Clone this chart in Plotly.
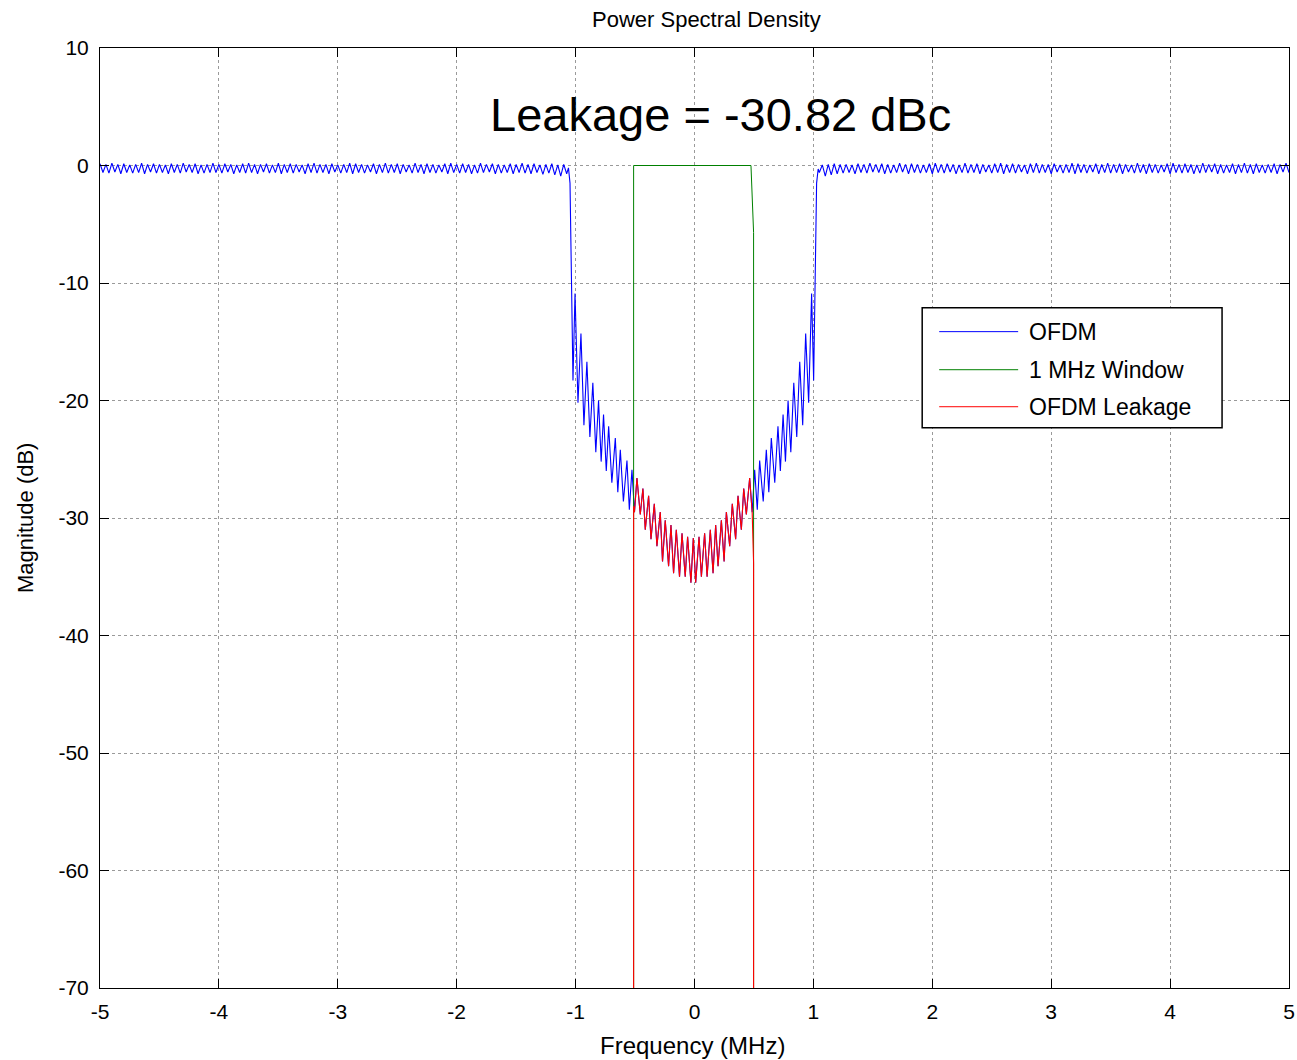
import numpy as np
import plotly.graph_objects as go

# ---------------- data ----------------
PASS_STEP = 0.025
PASS_L_START = -5.0
PASS_R_START = 1.05

# OFDM passband ripple, left side (f = -5.0 ... -1.075, step 0.025), dB
PASS_L_DB = [
    0.15, -0.6, 0.1, -0.65, 0.2, -0.55, 0.1, -0.7, 0.15, -0.6, 0.05, -0.65, 0.1, -0.6, 0.2, -0.7, 0.1, -0.55, 0.15, -0.65,
    0.1, -0.6, 0.05, -0.7, 0.15, -0.6, 0.1, -0.65, 0.2, -0.55, 0.1, -0.6, 0.15, -0.7, 0.05, -0.65, 0.1, -0.6, 0.2, -0.6,
    0.1, -0.65, 0.15, -0.55, 0.1, -0.7, 0.05, -0.6, 0.15, -0.65, 0.2, -0.6, 0.1, -0.7, 0.1, -0.55, 0.15, -0.65, 0.05, -0.6,
    0.2, -0.7, 0.1, -0.6, 0.15, -0.65, 0.1, -0.55, 0.05, -0.7, 0.15, -0.6, 0.2, -0.65, 0.1, -0.6, 0.1, -0.7, 0.15, -0.55,
    0.05, -0.65, 0.1, -0.6, 0.2, -0.7, 0.15, -0.6, 0.1, -0.65, 0.05, -0.55, 0.15, -0.7, 0.1, -0.6, 0.2, -0.65, 0.1, -0.6,
    0.15, -0.7, 0.1, -0.55, 0.05, -0.65, 0.2, -0.6, 0.1, -0.7, 0.15, -0.6, 0.1, -0.65, 0.05, -0.55, 0.15, -0.7, 0.2, -0.6,
    0.1, -0.65, 0.15, -0.6, 0.1, -0.7, 0.05, -0.65, 0.2, -0.6, 0.1, -0.55, 0.15, -0.7, 0.1, -0.65, 0.05, -0.6, 0.15, -0.7,
    0.1, -0.6, 0.2, -0.65, 0.1, -0.7, 0.15, -0.6, 0.05, -0.75, 0.1, -0.65, 0.15, -0.8, 0.05, -0.9, 0.1, -0.7,
]

# OFDM stop band (transition edges, sawtooth ripple), frequency in MHz and dB
STOP_F = [
    -1.060, -1.047, -1.033, -1.022, -1.005, -0.980, -0.955, -0.930, -0.905, -0.880,
    -0.855, -0.830, -0.807, -0.785, -0.765, -0.742, -0.722, -0.695, -0.666, -0.645,
    -0.624, -0.598, -0.568, -0.548, -0.526, -0.505, -0.484, -0.456, -0.434, -0.414,
    -0.386, -0.366, -0.338, -0.316, -0.288, -0.269, -0.246, -0.218, -0.198, -0.176,
    -0.153, -0.126, -0.105, -0.078, -0.058, -0.030, -0.010,
    0.010, 0.038, 0.058, 0.085, 0.106, 0.133, 0.156, 0.178, 0.198, 0.226,
    0.249, 0.268, 0.296, 0.318, 0.346, 0.366, 0.394, 0.414, 0.436, 0.464,
    0.485, 0.506, 0.528, 0.548, 0.578, 0.604, 0.625, 0.646, 0.675, 0.702,
    0.722, 0.745, 0.765, 0.787, 0.810, 0.835, 0.860, 0.885, 0.910, 0.935,
    0.960, 0.985, 1.002, 1.013, 1.027, 1.040,
]
STOP_DB = [
    -0.2, -1.5, -10.9, -18.3, -10.9, -20.2, -14.3, -22.1, -16.7, -23.1,
    -18.5, -24.4, -20.0, -25.2, -21.2, -26.0, -22.2, -27.0, -23.2, -27.8,
    -24.2, -28.6, -25.1, -29.3, -25.9, -29.5, -26.6, -29.7, -27.5, -31.0,
    -28.1, -31.8, -28.8, -32.4, -29.5, -33.7, -30.2, -34.1, -30.6, -34.7,
    -31.0, -35.0, -31.3, -35.0, -31.6, -35.5, -31.7,
    -35.5, -31.6, -35.0, -31.3, -35.0, -31.0, -34.7, -30.6, -34.1, -30.2,
    -33.7, -29.5, -32.4, -28.8, -31.8, -28.1, -31.0, -27.5, -29.7, -26.6,
    -29.5, -25.9, -29.3, -25.1, -28.6, -24.2, -27.8, -23.2, -27.0, -22.2,
    -26.0, -21.2, -25.2, -20.0, -24.4, -18.5, -23.1, -16.7, -22.1, -14.3,
    -20.2, -10.9, -18.3, -10.9, -1.5, -0.3,
]

# OFDM passband ripple, right side (f = 1.05 ... 5.0, step 0.025), dB
PASS_R_DB = [
    -0.6, 0.05, -0.9, 0.1, -0.8, 0.15, -0.7, 0.1, -0.65, 0.1, -0.6, 0.05, -0.7, 0.15, -0.6, 0.1, -0.65, 0.2, -0.55, 0.1,
    -0.6, 0.15, -0.7, 0.1, -0.65, 0.05, -0.6, 0.2, -0.55, 0.1, -0.7, 0.15, -0.6, 0.1, -0.65, 0.05, -0.6, 0.15, -0.7, 0.2,
    -0.6, 0.1, -0.65, 0.15, -0.55, 0.1, -0.7, 0.05, -0.6, 0.2, -0.65, 0.1, -0.6, 0.15, -0.7, 0.1, -0.55, 0.05, -0.65, 0.15,
    -0.6, 0.2, -0.7, 0.1, -0.6, 0.15, -0.65, 0.1, -0.55, 0.05, -0.7, 0.15, -0.6, 0.2, -0.65, 0.1, -0.6, 0.1, -0.7, 0.15,
    -0.55, 0.05, -0.65, 0.1, -0.6, 0.2, -0.7, 0.15, -0.6, 0.1, -0.65, 0.05, -0.55, 0.15, -0.7, 0.1, -0.6, 0.2, -0.65, 0.1,
    -0.6, 0.15, -0.7, 0.1, -0.55, 0.05, -0.65, 0.2, -0.6, 0.1, -0.7, 0.15, -0.6, 0.1, -0.65, 0.05, -0.55, 0.15, -0.7, 0.2,
    -0.6, 0.1, -0.65, 0.15, -0.6, 0.1, -0.7, 0.05, -0.65, 0.2, -0.6, 0.1, -0.55, 0.15, -0.7, 0.1, -0.65, 0.05, -0.6, 0.15,
    -0.7, 0.1, -0.6, 0.2, -0.65, 0.1, -0.7, 0.15, -0.6, 0.05, -0.65, 0.1, -0.6, 0.15, -0.7, 0.1, -0.55, 0.2, -0.6,
]

# 1 MHz window (dB), values far below -70 are off-scale
WIN_F = [-5.0, -0.512, -0.512, 0.475, 0.497, 0.497, 5.0]
WIN_DB = [-300, -300, 0.0, 0.0, -5.7, -300, -300]

# leakage edges (window limits)
LEAK_LO, LEAK_HI = -0.512, 0.497
LEAK_EDGE_L_DB = [-300, -29.0]
LEAK_EDGE_R_DB = [-33.8, -300]

X_TICKS = [-5, -4, -3, -2, -1, 0, 1, 2, 3, 4, 5]
Y_TICKS = [10, 0, -10, -20, -30, -40, -50, -60, -70]
LEGEND_NAMES = ["OFDM", "1 MHz Window", "OFDM Leakage"]
COLORS = ["#0000ff", "#008000", "#ff0000"]

# ---------------- build series ----------------
pass_l_f = PASS_L_START + PASS_STEP * np.arange(len(PASS_L_DB))
pass_r_f = PASS_R_START + PASS_STEP * np.arange(len(PASS_R_DB))
ofdm_f = np.concatenate([pass_l_f, np.array(STOP_F), pass_r_f])
ofdm_db = np.concatenate([np.array(PASS_L_DB), np.array(STOP_DB), np.array(PASS_R_DB)])

stop_f = np.array(STOP_F)
stop_db = np.array(STOP_DB)
inwin = (stop_f >= LEAK_LO) & (stop_f <= LEAK_HI)
leak_f = np.concatenate([[LEAK_LO, LEAK_LO], stop_f[inwin], [LEAK_HI, LEAK_HI]])
leak_db = np.concatenate([LEAK_EDGE_L_DB, stop_db[inwin], LEAK_EDGE_R_DB])

FONT = "Liberation Sans, Arial, sans-serif"

fig = go.Figure()
fig.add_trace(go.Scatter(x=ofdm_f, y=ofdm_db, mode="lines", name=LEGEND_NAMES[0],
                         line=dict(color=COLORS[0], width=1.1), showlegend=False))
fig.add_trace(go.Scatter(x=WIN_F, y=WIN_DB, mode="lines", name=LEGEND_NAMES[1],
                         line=dict(color=COLORS[1], width=1), showlegend=False))
fig.add_trace(go.Scatter(x=leak_f, y=leak_db, mode="lines", name=LEGEND_NAMES[2],
                         line=dict(color=COLORS[2], width=1.1), showlegend=False))

axis_common = dict(
    showline=True, linecolor="black", linewidth=1, mirror="ticks",
    ticks="inside", ticklen=9, tickcolor="black", tickwidth=1,
    showgrid=True, gridcolor="#9a9a9a", griddash="dot", gridwidth=1,
    zeroline=False, automargin=False,
    tickfont=dict(family=FONT, size=21, color="black"),
)

fig.update_xaxes(range=[-5, 5], tickvals=X_TICKS, ticktext=[str(v) for v in X_TICKS],
                 ticklabelstandoff=5, **axis_common)
fig.update_yaxes(range=[-70, 10], tickvals=Y_TICKS, ticktext=[str(v) for v in Y_TICKS],
                 ticklabelstandoff=6, **axis_common)

annotations = [
    dict(text="Power Spectral Density", xref="paper", yref="paper", x=0.51, y=1.0298,
         xanchor="center", yanchor="middle", showarrow=False,
         font=dict(family=FONT, size=22, color="black")),
    dict(text="Frequency (MHz)", xref="paper", yref="paper", x=0.498, y=-0.0617,
         xanchor="center", yanchor="middle", showarrow=False,
         font=dict(family=FONT, size=24, color="black")),
    dict(text="Magnitude (dB)", xref="paper", yref="paper", x=-0.0631, y=0.5,
         xanchor="center", yanchor="middle", textangle=-90, showarrow=False,
         font=dict(family=FONT, size=22, color="black")),
    dict(text="Leakage = -30.82 dBc", xref="x", yref="y", x=0.22, y=4.3,
         xanchor="center", yanchor="middle", showarrow=False,
         font=dict(family=FONT, size=47, color="black")),
]

# manual legend (MATLAB style: long line samples)
LEG_X0, LEG_X1, LEG_Y0, LEG_Y1 = 1.915, 4.437, -12.10, -22.31
LEG_LINE_X = (2.058, 2.722)
LEG_TEXT_X = 2.80
LEG_ROWS_Y = [-14.14, -17.38, -20.53]

shapes = [dict(type="rect", xref="x", yref="y", x0=LEG_X0, x1=LEG_X1, y0=LEG_Y0, y1=LEG_Y1,
               line=dict(color="black", width=1.5), fillcolor="white", layer="above")]
for name, col, yy in zip(LEGEND_NAMES, COLORS, LEG_ROWS_Y):
    shapes.append(dict(type="line", xref="x", yref="y", x0=LEG_LINE_X[0], x1=LEG_LINE_X[1],
                       y0=yy, y1=yy, line=dict(color=col, width=1), layer="above"))
    annotations.append(dict(text=name, xref="x", yref="y", x=LEG_TEXT_X, y=yy,
                            xanchor="left", yanchor="middle", showarrow=False,
                            font=dict(family=FONT, size=23, color="black")))

fig.update_layout(
    width=1297, height=1060,
    margin=dict(l=100, r=8, t=48, b=72),
    paper_bgcolor="white", plot_bgcolor="white",
    showlegend=False,
    annotations=annotations, shapes=shapes,
)

fig.write_html(
    "out.html",
    config={"displayModeBar": False},
    post_script="document.body.style.margin='0';document.body.style.overflow='hidden';",
)
